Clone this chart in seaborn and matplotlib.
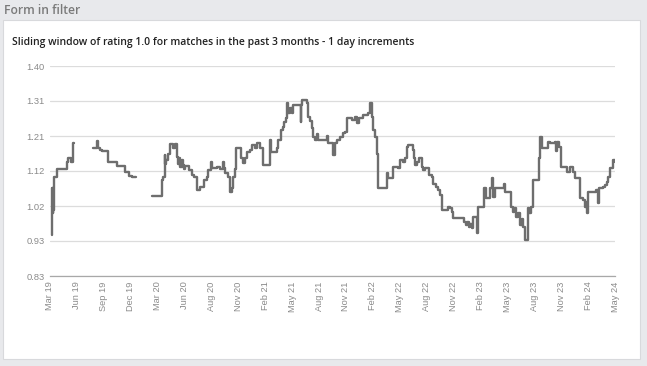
import numpy as np
import pandas as pd
import matplotlib
matplotlib.use("Agg")
import matplotlib.pyplot as plt
import seaborn as sns
from matplotlib.patches import Rectangle

# ---- data (days since start of Mar 2019, rating) ----
seg1_days = [6, 8, 9, 10, 11, 12, 13, 24, 58, 61, 69, 76, 81]
seg1_vals = [0.94, 1.07, 1.00, 1.07, 1.01, 1.06, 1.10, 1.12, 1.14, 1.15, 1.14, 1.19, 1.19]

seg2_days = [145, 156, 159, 167, 174, 195, 225, 251, 265, 273, 287]
seg2_vals = [1.178, 1.197, 1.178, 1.172, 1.169, 1.14, 1.129, 1.113, 1.101, 1.098, 1.098]

seg3_days = [340, 376, 379, 384, 385, 387, 396, 401, 412, 417, 424, 427, 430, 435, 441, 446, 449,
             452, 466, 474, 482, 491, 502, 515, 524, 530, 539, 542, 558, 569, 578, 582, 585, 596,
             602, 610, 613, 619, 622, 638, 647, 652, 658, 669, 675, 686, 691, 702, 713, 736, 738,
             758, 764, 772, 778, 783, 789, 794, 796, 803, 808, 814, 839, 841, 842, 859, 864, 870,
             875, 881, 886, 894, 896, 926, 929, 948, 952, 961, 970, 979, 987, 994, 1009, 1020,
             1026, 1034, 1048, 1065, 1070, 1076, 1081, 1087, 1093, 1098, 1128, 1132, 1146, 1165,
             1171, 1182, 1187, 1193, 1199, 1213, 1218, 1221, 1227, 1235, 1243, 1249, 1254, 1269,
             1277, 1282, 1290, 1297, 1305, 1310, 1332, 1338, 1344, 1349, 1386, 1392, 1396, 1401,
             1405, 1411, 1415, 1427, 1431, 1451, 1457, 1472, 1477, 1483, 1488, 1494, 1519, 1522,
             1541, 1548, 1553, 1559, 1566, 1572, 1578, 1583, 1589, 1598, 1603, 1608, 1615, 1637,
             1639, 1645, 1667, 1673, 1689, 1692, 1697, 1703, 1708, 1730, 1739, 1750, 1756, 1773,
             1782, 1789, 1795, 1798, 1800, 1828, 1833, 1837, 1851, 1856, 1862, 1867, 1873, 1882,
             1890]
seg3_vals = [1.048, 1.091, 1.10, 1.158, 1.135, 1.145, 1.16, 1.187, 1.177, 1.187, 1.153, 1.135,
             1.15, 1.127, 1.145, 1.131, 1.12, 1.129, 1.118, 1.104, 1.10, 1.063, 1.072, 1.09, 1.10,
             1.118, 1.14, 1.122, 1.127, 1.12, 1.14, 1.122, 1.109, 1.10, 1.059, 1.07, 1.10, 1.12,
             1.177, 1.15, 1.136, 1.15, 1.167, 1.172, 1.186, 1.177, 1.19, 1.177, 1.131, 1.199,
             1.167, 1.177, 1.199, 1.226, 1.235, 1.249, 1.258, 1.299, 1.272, 1.285, 1.272, 1.294,
             1.249, 1.294, 1.308, 1.30, 1.262, 1.25, 1.231, 1.208, 1.199, 1.215, 1.199, 1.21,
             1.19, 1.158, 1.19, 1.199, 1.208, 1.217, 1.222, 1.258, 1.253, 1.262, 1.244, 1.258,
             1.267, 1.272, 1.299, 1.262, 1.226, 1.208, 1.16, 1.068, 1.109, 1.095, 1.127, 1.122,
             1.145, 1.14, 1.15, 1.181, 1.186, 1.172, 1.15, 1.131, 1.14, 1.15, 1.127, 1.118, 1.122,
             1.104, 1.10, 1.08, 1.072, 1.063, 1.05, 1.009, 1.018, 1.014, 1.005, 0.988, 0.977,
             0.968, 0.977, 0.962, 0.972, 0.959, 0.99, 0.946, 1.018, 1.068, 1.041, 1.07, 1.095,
             1.045, 1.07, 1.068, 1.08, 1.059, 1.018, 1.005, 1.014, 0.991, 1.0, 0.968, 0.986,
             0.962, 0.928, 1.014, 1.0, 1.018, 1.091, 1.15, 1.208, 1.177, 1.195, 1.19, 1.195,
             1.168, 1.195, 1.181, 1.127, 1.113, 1.127, 1.113, 1.095, 1.041, 1.036, 1.018, 1.032,
             1.0, 1.059, 1.063, 1.027, 1.068, 1.072, 1.077, 1.086, 1.10, 1.122, 1.145, 1.14]

tick_labels = ["Mar 19", "Jun 19", "Sep 19", "Dec 19", "Mar 20", "Jun 20", "Aug 20", "Nov 20",
               "Feb 21", "May 21", "Aug 21", "Nov 21", "Feb 22", "May 22", "Aug 22", "Nov 22",
               "Feb 23", "May 23", "Aug 23", "Nov 23", "Feb 24", "May 24"]
y_ticks = [0.83, 0.925, 1.02, 1.115, 1.21, 1.305, 1.40]
y_tick_labels = ["0.83", "0.93", "1.02", "1.12", "1.21", "1.31", "1.40"]

df = pd.concat([
    pd.DataFrame({"day": seg1_days, "rating": seg1_vals, "seg": 1}),
    pd.DataFrame({"day": seg2_days, "rating": seg2_vals, "seg": 2}),
    pd.DataFrame({"day": seg3_days, "rating": seg3_vals, "seg": 3}),
], ignore_index=True)

sns.set_style("white")
plt.rcParams["font.family"] = ["Open Sans", "DejaVu Sans"]

W, H = 647, 366
fig = plt.figure(figsize=(W / 100, H / 100), dpi=100)
fig.patch.set_facecolor("#e8e9ec")

# white card
fig.add_artist(Rectangle((3 / W, 1 - 359 / H), 637 / W, 339 / H, transform=fig.transFigure,
                         facecolor="white", edgecolor="#d8d9dc", linewidth=0.8, zorder=0))
fig.text(4 / W, 1 - 10 / H, "Form in filter", fontsize=8.7, color="#7a7a7a",
         va="center", ha="left", fontweight="semibold")
fig.text(12 / W, 1 - 42 / H,
         "Sliding window of rating 1.0 for matches in the past 3 months - 1 day increments",
         fontsize=7.45, color="#222222", va="center", ha="left", fontweight="semibold")

ax = fig.add_axes([50 / W, 1 - 276 / H, 565 / W, 210 / H])
ax.set_facecolor("none")
sns.lineplot(data=df, x="day", y="rating", units="seg", estimator=None, ax=ax,
             color="#6e6e6e", linewidth=1.7, drawstyle="steps-post", legend=False)

ax.set_xlim(0, 1890)
ax.set_ylim(0.83, 1.40)
ax.set_yticks(y_ticks)
ax.set_yticklabels(y_tick_labels)
ax.set_xticks(np.linspace(0, 1890, len(tick_labels)))
ax.set_xticklabels(tick_labels, rotation=90)
ax.grid(axis="y", color="#dcdcdc", linewidth=0.9)
ax.grid(axis="x", visible=False)
for s in ["top", "right", "left"]:
    ax.spines[s].set_visible(False)
ax.spines["bottom"].set_color("#a8a8a8")
ax.spines["bottom"].set_linewidth(0.9)
ax.tick_params(axis="both", labelsize=6.7, labelcolor="#8a8a8a", length=0, pad=4)
for lab in ax.get_xticklabels() + ax.get_yticklabels():
    lab.set_family(["Liberation Sans", "DejaVu Sans"])
ax.set_xlabel("")
ax.set_ylabel("")

fig.savefig("out.png", dpi=100, facecolor=fig.get_facecolor())
